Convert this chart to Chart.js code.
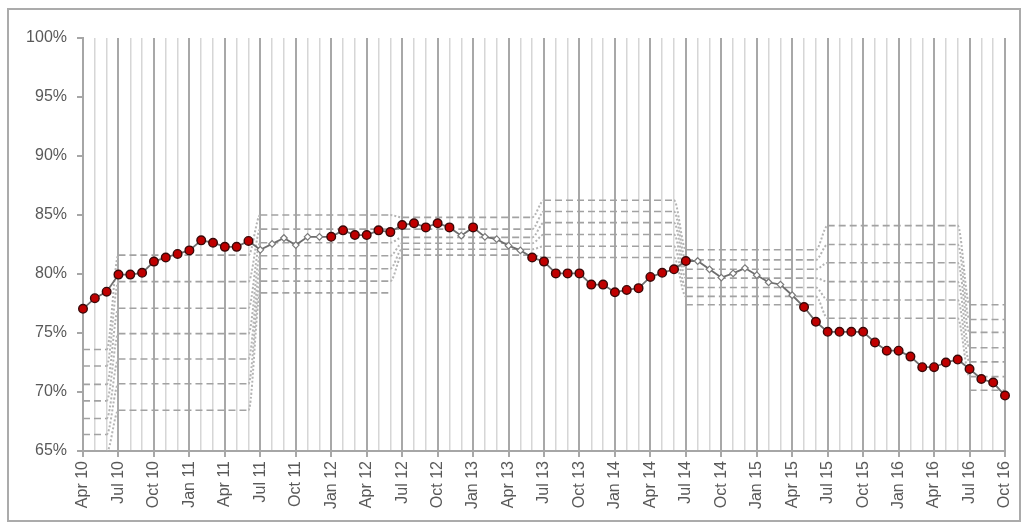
<!DOCTYPE html>
<html>
<head>
<meta charset="utf-8">
<script src="https://cdn.jsdelivr.net/npm/chart.js@4/dist/chart.umd.min.js"></script>
<style>
  html, body { margin: 0; padding: 0; background: #ffffff; }
  #wrap { position: relative; width: 1023px; height: 526px; }
  #frame { position: absolute; left: 7px; top: 8px; width: 1014px; height: 514px;
           box-sizing: border-box; border: 2px solid #ababab; pointer-events: none; }
  canvas { position: absolute; left: 0; top: 0; }
</style>
</head>
<body>
<div id="wrap">
  <canvas id="chart" width="1023" height="526"></canvas>
  <div id="frame"></div>
</div>
<script>
// Monthly categories, April 2010 to October 2016
const months = [
  'Apr 10','May 10','Jun 10','Jul 10','Aug 10','Sep 10','Oct 10','Nov 10','Dec 10',
  'Jan 11','Feb 11','Mar 11','Apr 11','May 11','Jun 11','Jul 11','Aug 11','Sep 11','Oct 11','Nov 11','Dec 11',
  'Jan 12','Feb 12','Mar 12','Apr 12','May 12','Jun 12','Jul 12','Aug 12','Sep 12','Oct 12','Nov 12','Dec 12',
  'Jan 13','Feb 13','Mar 13','Apr 13','May 13','Jun 13','Jul 13','Aug 13','Sep 13','Oct 13','Nov 13','Dec 13',
  'Jan 14','Feb 14','Mar 14','Apr 14','May 14','Jun 14','Jul 14','Aug 14','Sep 14','Oct 14','Nov 14','Dec 14',
  'Jan 15','Feb 15','Mar 15','Apr 15','May 15','Jun 15','Jul 15','Aug 15','Sep 15','Oct 15','Nov 15','Dec 15',
  'Jan 16','Feb 16','Mar 16','Apr 16','May 16','Jun 16','Jul 16','Aug 16','Sep 16','Oct 16'
];

// Monthly rate (%)
const rates = [
  77.05, 77.95, 78.5, 79.95, 79.95, 80.1, 81.05, 81.4, 81.7,
  82.0, 82.85, 82.65, 82.3, 82.3, 82.8, 82.05, 82.55, 83.05, 82.45, 83.15, 83.15,
  83.15, 83.7, 83.3, 83.3, 83.7, 83.55, 84.15, 84.3, 83.95, 84.3, 83.95, 83.25,
  83.95, 83.15, 82.95, 82.4, 82.0, 81.4, 81.05, 80.05, 80.05, 80.05, 79.1, 79.1,
  78.45, 78.65, 78.8, 79.75, 80.1, 80.4, 81.1, 81.1, 80.4, 79.7, 80.05, 80.5,
  79.9, 79.3, 79.1, 78.2, 77.2, 75.95, 75.1, 75.1, 75.1, 75.1, 74.2, 73.5,
  73.5, 73.0, 72.1, 72.1, 72.5, 72.75, 71.95, 71.1, 70.8, 69.7
];

// 1 = provisional month (hollow marker), 0 = confirmed month
const provisional = [
  0,0,0,0,0,0,0,0,0,
  0,0,0,0,0,0,1,1,1,1,1,1,
  0,0,0,0,0,0,0,0,0,0,0,1,
  0,1,1,1,1,0,0,0,0,0,0,0,
  0,0,0,0,0,0,0,1,1,1,1,1,
  1,1,1,1,0,0,0,0,0,0,0,0,
  0,0,0,0,0,0,0,0,0,0
];

// Reference levels for each July-June year (%)
const band0910 = [73.6, 72.2, 70.65, 69.25, 67.75, 66.4, 64.9];
const band1011 = [81.6, 79.35, 77.1, 74.95, 72.8, 70.7, 68.45];
const band1112 = [85.0, 83.8, 82.65, 81.55, 80.45, 79.4, 78.4];
const band1213 = [84.8, 83.8, 83.1, 82.6, 82.1, 81.6];
const band1314 = [86.25, 85.3, 84.35, 83.35, 82.35, 81.4];
const band1415 = [82.05, 81.2, 80.4, 79.65, 78.85, 78.1, 77.4];
const band1516 = [84.1, 82.5, 80.95, 79.35, 77.8, 76.25];
const band1617 = [77.4, 76.15, 75.05, 73.75, 72.55, 71.3, 70.15];

// Y axis
const yMin = 65, yMax = 100, yStep = 5;

const bandYears = [band0910, band1011, band1112, band1213, band1314, band1415, band1516, band1617];

// Which July-June year each month belongs to
const yearOf = [];
let yr = 0;
months.forEach((m, i) => {
  if (i > 0 && m.startsWith('Jul')) yr++;
  yearOf.push(yr);
});

const bandCount = Math.max(...bandYears.map(b => b.length));
const bandSets = [];
for (let k = 0; k < bandCount; k++) {
  bandSets.push({
    data: months.map((_, i) => {
      const v = bandYears[yearOf[i]][k];
      return v === undefined ? null : v;
    }),
    borderColor: '#a2a2a2',
    borderWidth: 1.6,
    borderDash: [7, 4],
    pointRadius: 0,
    cubicInterpolationMode: 'monotone',
    spanGaps: false,
    segment: {
      borderDash: ctx => (ctx.p0.parsed.y !== ctx.p1.parsed.y ? [2, 2] : undefined),
      borderColor: ctx => (ctx.p0.parsed.y !== ctx.p1.parsed.y ? '#b4b4b4' : undefined),
      borderWidth: ctx => (ctx.p0.parsed.y !== ctx.p1.parsed.y ? 2 : undefined)
    },
    order: 1 + k
  });
}

const isProv = i => provisional[i] === 1;

const mainSet = {
  data: rates,
  borderColor: '#6e6e6e',
  borderWidth: 1.8,
  tension: 0,
  clip: false,
  pointStyle: rates.map((_, i) => isProv(i) ? 'rectRot' : 'circle'),
  pointRadius: rates.map((_, i) => isProv(i) ? 3.3 : 4.3),
  pointBackgroundColor: rates.map((_, i) => isProv(i) ? '#ffffff' : '#c00000'),
  pointBorderColor: rates.map((_, i) => isProv(i) ? '#7a7a7a' : '#3a0808'),
  pointBorderWidth: rates.map((_, i) => isProv(i) ? 1.2 : 1.4),
  order: 0
};

Chart.defaults.font.family = "'Liberation Sans', Arial, sans-serif";
Chart.defaults.font.size = 16;
Chart.defaults.color = '#595959';

new Chart(document.getElementById('chart'), {
  type: 'line',
  data: { labels: months, datasets: [mainSet, ...bandSets] },
  options: {
    responsive: false,
    devicePixelRatio: 1,
    animation: false,
    events: [],
    layout: { padding: { top: 38, right: 18, left: 0, bottom: 0 } },
    plugins: { legend: { display: false }, tooltip: { enabled: false } },
    scales: {
      x: {
        type: 'category',
        offset: false,
        afterFit: s => { s.height = 75; s.paddingLeft = 0; s.paddingRight = 0; },
        border: { color: '#a6a6a6', width: 2 },
        grid: {
          color: ctx => (ctx.index % 3 === 0 ? '#a8a8a8' : '#d6d6d6'),
          lineWidth: ctx => (ctx.index % 3 === 0 ? 2 : 1.5),
          tickColor: ctx => (ctx.index % 3 === 0 ? '#a8a8a8' : 'rgba(0,0,0,0)'),
          tickLength: 6
        },
        ticks: {
          autoSkip: false,
          maxRotation: 90,
          minRotation: 90,
          padding: 4,
          callback: (v, i) => (i % 3 === 0 ? months[i] : '')
        }
      },
      y: {
        min: yMin,
        max: yMax,
        afterFit: s => { s.width = 83; },
        border: { color: '#a6a6a6', width: 2 },
        grid: { drawOnChartArea: false, tickLength: 6, color: '#a6a6a6', lineWidth: 2 },
        ticks: {
          stepSize: yStep,
          padding: 10,
          callback: v => v + '%'
        }
      }
    }
  }
});
</script>
</body>
</html>
